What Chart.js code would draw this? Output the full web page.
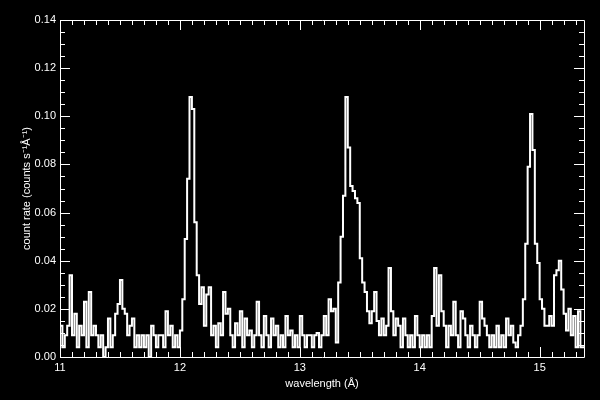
<!DOCTYPE html>
<html>
<head>
<meta charset="utf-8">
<script src="https://cdn.jsdelivr.net/npm/chart.js@4/dist/chart.umd.min.js"></script>
<style>
  html, body { margin: 0; padding: 0; background: #000; }
  #wrap { width: 600px; height: 400px; }
</style>
</head>
<body>
<div id="wrap"><canvas id="spec"></canvas></div>
<script>
// spectrum binning (Angstrom)
const binStart = 11.0;
const binWidth = 0.02;

// count rate per bin, 5 bins per 0.1 A row
const countRate = [
  0.017, 0.013, 0.004, 0.009, 0.013,  // 11.0
  0.034, 0.009, 0.018, 0.004, 0.013,  // 11.1
  0.009, 0.023, 0.004, 0.027, 0.009,  // 11.2
  0.013, 0.009, 0.004, 0.009, 0.000,  // 11.3
  0.004, 0.016, 0.004, 0.009, 0.018,  // 11.4
  0.022, 0.032, 0.020, 0.018, 0.009,  // 11.5
  0.013, 0.016, 0.004, 0.009, 0.004,  // 11.6
  0.009, 0.004, 0.009, 0.000, 0.013,  // 11.7
  0.009, 0.004, 0.009, 0.009, 0.004,  // 11.8
  0.019, 0.009, 0.013, 0.004, 0.009,  // 11.9
  0.004, 0.011, 0.024, 0.049, 0.074,  // 12.0
  0.108, 0.103, 0.056, 0.034, 0.022,  // 12.1
  0.029, 0.013, 0.026, 0.029, 0.009,  // 12.2
  0.013, 0.004, 0.014, 0.009, 0.027,  // 12.3
  0.018, 0.020, 0.009, 0.004, 0.014,  // 12.4
  0.009, 0.019, 0.004, 0.016, 0.009,  // 12.5
  0.011, 0.004, 0.009, 0.023, 0.009,  // 12.6
  0.004, 0.017, 0.009, 0.004, 0.016,  // 12.7
  0.009, 0.013, 0.004, 0.009, 0.004,  // 12.8
  0.017, 0.009, 0.011, 0.004, 0.009,  // 12.9
  0.004, 0.017, 0.009, 0.004, 0.009,  // 13.0
  0.009, 0.004, 0.009, 0.010, 0.004,  // 13.1
  0.009, 0.017, 0.009, 0.024, 0.019,  // 13.2
  0.020, 0.006, 0.031, 0.050, 0.067,  // 13.3
  0.108, 0.087, 0.071, 0.069, 0.066,  // 13.4
  0.064, 0.041, 0.031, 0.027, 0.019,  // 13.5
  0.014, 0.019, 0.027, 0.015, 0.009,  // 13.6
  0.016, 0.009, 0.013, 0.037, 0.019,  // 13.7
  0.009, 0.016, 0.013, 0.004, 0.016,  // 13.8
  0.009, 0.004, 0.009, 0.004, 0.017,  // 13.9
  0.009, 0.004, 0.009, 0.004, 0.009,  // 14.0
  0.004, 0.017, 0.037, 0.013, 0.034,  // 14.1
  0.019, 0.013, 0.004, 0.013, 0.009,  // 14.2
  0.023, 0.009, 0.004, 0.019, 0.016,  // 14.3
  0.009, 0.004, 0.013, 0.009, 0.004,  // 14.4
  0.009, 0.023, 0.016, 0.013, 0.009,  // 14.5
  0.004, 0.009, 0.004, 0.013, 0.004,  // 14.6
  0.009, 0.004, 0.016, 0.009, 0.013,  // 14.7
  0.006, 0.004, 0.009, 0.013, 0.024,  // 14.8
  0.047, 0.079, 0.101, 0.086, 0.047,  // 14.9
  0.039, 0.024, 0.020, 0.013, 0.013,  // 15.0
  0.017, 0.013, 0.034, 0.036, 0.040,  // 15.1
  0.028, 0.018, 0.011, 0.020, 0.009,  // 15.2
  0.017, 0.004, 0.019, 0.004          // 15.3
];

const xTicks = [11, 12, 13, 14, 15];
const yTicks = [0, 0.02, 0.04, 0.06, 0.08, 0.10, 0.12, 0.14];
const xMin = 11.0, xMax = 15.37;
const yMin = 0.0, yMax = 0.14;
const xLabel = 'wavelength (Å)';
const yLabel = 'count rate (counts s\u207B\u00B9Å\u207B\u00B9)';

const points = countRate.map((v, i) => ({ x: binStart + i * binWidth, y: v }));
// close the last bin
points.push({ x: binStart + countRate.length * binWidth, y: countRate[countRate.length - 1] });

const fg = '#ffffff';
const font = { family: 'Liberation Sans', size: 11 };

// IDL-style box with inward major/minor ticks on all four sides
const idlFrame = {
  id: 'idlFrame',
  afterDraw(chart) {
    const { ctx, chartArea: a, scales } = chart;
    const xs = scales.x, ys = scales.y;
    ctx.save();
    ctx.strokeStyle = fg;
    ctx.lineWidth = 1;
    ctx.beginPath();
    ctx.rect(Math.round(a.left) + 0.5, Math.round(a.top) + 0.5,
             Math.round(a.right - a.left), Math.round(a.bottom - a.top));
    ctx.stroke();

    ctx.beginPath();
    for (let k = 0; k <= 28; k++) {
      const py = Math.round(ys.getPixelForValue(k * 0.005)) + 0.5;
      const len = (k % 4 === 0) ? 10 : 5;
      ctx.moveTo(a.left, py); ctx.lineTo(a.left + len, py);
      ctx.moveTo(a.right, py); ctx.lineTo(a.right - len, py);
    }
    for (let k = 110; k <= 153; k++) {
      const px = Math.round(xs.getPixelForValue(k / 10)) + 0.5;
      const len = (k % 10 === 0) ? 10 : 5;
      ctx.moveTo(px, a.bottom); ctx.lineTo(px, a.bottom - len);
      ctx.moveTo(px, a.top); ctx.lineTo(px, a.top + len);
    }
    ctx.stroke();
    ctx.restore();
  }
};

new Chart(document.getElementById('spec'), {
  type: 'line',
  data: {
    datasets: [{
      label: 'spectrum',
      data: points,
      stepped: 'after',
      borderColor: fg,
      borderWidth: 2,
      pointRadius: 0,
      fill: false
    }]
  },
  options: {
    responsive: true,
    maintainAspectRatio: false,
    animation: false,
    events: [],
    layout: { padding: { top: 20, right: 16, left: 0, bottom: 0 } },
    plugins: { legend: { display: false }, tooltip: { enabled: false } },
    scales: {
      x: {
        type: 'linear',
        min: xMin, max: xMax,
        grid: { display: false, drawTicks: false },
        border: { display: false },
        afterBuildTicks: s => { s.ticks = xTicks.map(v => ({ value: v })); },
        ticks: { color: fg, font: font, padding: 4, callback: v => String(v) },
        title: { display: true, text: xLabel, color: fg, font: font, padding: { top: 0, bottom: 9 } },
        afterFit: s => { s.height = 43; }
      },
      y: {
        min: yMin, max: yMax,
        grid: { display: false, drawTicks: false },
        border: { display: false },
        afterBuildTicks: s => { s.ticks = yTicks.map(v => ({ value: v })); },
        ticks: { color: fg, font: font, padding: 4, callback: v => v.toFixed(2) },
        title: { display: true, text: yLabel, color: fg, font: font, padding: { top: 20, bottom: 0 } },
        afterFit: s => { s.width = 60; }
      }
    }
  },
  plugins: [idlFrame]
});
</script>
</body>
</html>
